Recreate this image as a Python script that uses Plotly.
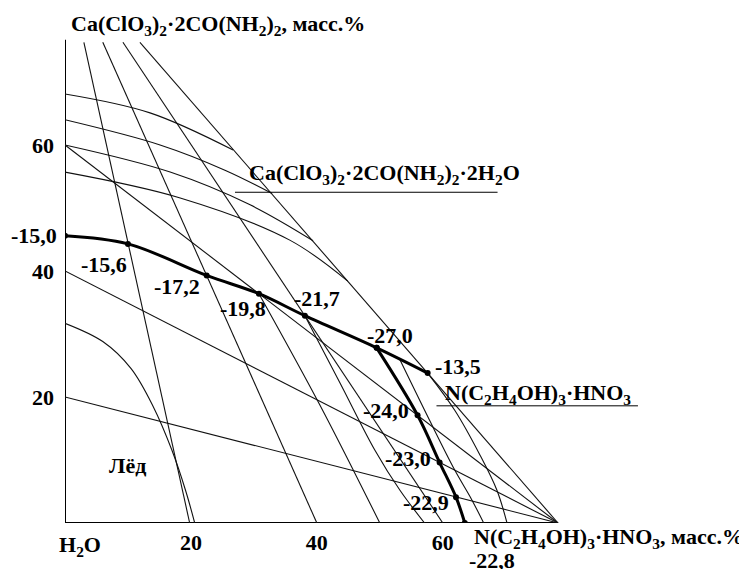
import plotly.graph_objects as go

# ---------------- data (mass %) ----------------
# axis extents
axis_x_end = 78.3          # N(C2H4OH)3·HNO3 vertex on the x axis
axis_y_top = 76.7          # top of the Ca(ClO3)2·2CO(NH2)2 axis

# sections from the Ca-salt vertex (start at top, end on x axis)
sec_top_y = 76.3
sec_top_x_start = [3.0, 6.0, 9.2, 11.9]
sec_top_x_end = [19.8, 40.0, 60.0, 78.3]

# sections from the N-salt vertex (start on y axis)
sec_n_y_start = [60.0, 40.0, 20.0]

# isotherms in the Ca(ClO3)2·2CO(NH2)2·2H2O field
iso_g1_x = [0, 13.5, 26.7]
iso_g1_y = [68.1, 65.1, 59.2]
iso_g2_x = [0, 15.1, 25.4, 32.9]
iso_g2_y = [64.0, 60.0, 56.0, 52.3]
iso_g3_x = [0, 16.7, 29.4, 39.4]
iso_g3_y = [60.0, 55.7, 50.5, 44.8]
iso_g4_x = [0, 18.3, 35.7, 44.9]
iso_g4_y = [55.7, 51.6, 44.9, 38.4]

# isotherms in the ice field
iso_ice_x = [0, 6.0, 10.5, 14.0, 17.0, 19.2, 20.6]
iso_ice_y = [31.7, 28.8, 24.5, 18.5, 11.5, 5.0, 0]
iso_i1_x = [30.8, 40.5, 50.0]
iso_i1_y = [36.4, 18.7, 0]
iso_i2_x = [38.1, 43.7, 49.2, 53.2, 57.1]
iso_i2_y = [32.9, 22.2, 11.6, 5.2, 0]

# isotherms in the N(C2H4OH)3·HNO3 field
iso_c1_x = [53.2, 57.9, 61.9, 64.6, 66.5]
iso_c1_y = [25.9, 16.3, 8.4, 3.7, 0]
iso_c2_x = [57.6, 61.9, 65.9, 68.6, 70.2]
iso_c2_y = [23.8, 17.9, 10.8, 5.2, 0]

# crystallization boundary lines (thick)
upper_x = [0, 10.0, 22.5, 30.8, 38.1, 49.5, 57.6]
upper_y = [45.6, 44.3, 39.3, 36.4, 32.9, 27.8, 23.8]
lower_x = [49.5, 56.0, 59.5, 62.1, 63.5]
lower_y = [27.8, 17.1, 9.6, 4.1, 0]

# temperature labels (°C) and their anchor points
temp_labels = ["-15,0", "-15,6", "-17,2", "-19,8", "-21,7", "-27,0", "-13,5",
               "-24,0", "-23,0", "-22,9", "-22,8"]
temp_lab_x = [0.05, 6.2, 17.8, 28.3, 40.0, 51.6, 62.4, 51.0, 54.4, 57.3, 67.8]
temp_lab_y = [45.7, 41.1, 37.5, 34.1, 35.7, 29.8, 24.8, 17.8, 10.2, 3.3, 0]

tick_vals = [20, 40, 60]
tick_text = ["20", "40", "60"]

FONT = "Liberation Serif"
FS = 22
THIN = dict(color="#111111", width=1.1)

fig = go.Figure()


def add_line(x, y, line, shape="linear"):
    fig.add_trace(go.Scatter(x=x, y=y, mode="lines", line=dict(**line, shape=shape),
                             hoverinfo="skip", showlegend=False))


# axes
add_line([0, 0], [0, axis_y_top], dict(color="black", width=2))
add_line([0, axis_x_end], [0, 0], dict(color="black", width=2))

# sections
for xs, xe in zip(sec_top_x_start, sec_top_x_end):
    add_line([xs, xe], [sec_top_y, 0], THIN)
for ys in sec_n_y_start:
    add_line([0, axis_x_end], [ys, 0], THIN)

# isotherms
for xx, yy in [(iso_g1_x, iso_g1_y), (iso_g2_x, iso_g2_y), (iso_g3_x, iso_g3_y),
               (iso_g4_x, iso_g4_y), (iso_ice_x, iso_ice_y), (iso_i1_x, iso_i1_y),
               (iso_i2_x, iso_i2_y), (iso_c1_x, iso_c1_y), (iso_c2_x, iso_c2_y)]:
    add_line(xx, yy, THIN, "spline")

# thick boundary lines
add_line(upper_x, upper_y, dict(color="black", width=3), "spline")
add_line(lower_x, lower_y, dict(color="black", width=3), "spline")
fig.add_trace(go.Scatter(x=upper_x + lower_x, y=upper_y + lower_y, mode="markers",
                         marker=dict(color="black", size=6), hoverinfo="skip",
                         showlegend=False))


def font():
    return dict(family=FONT, size=FS, color="black")


ann = []
for i, (t, x, y) in enumerate(zip(temp_labels, temp_lab_x, temp_lab_y)):
    a = dict(x=x, y=y, xref="x", yref="y", text="<b>%s</b>" % t, showarrow=False,
             xanchor="center", yanchor="middle", font=font())
    if i == 0:
        a.update(xanchor="right", xshift=-6)
    if t == "-22,8":
        a.update(yshift=-37)
    ann.append(a)

other_labels = [
    ("<b>Лёд</b>", 10.0, 9.2, 0),
    ("<b>H<sub>2</sub>O</b>", 2.4, 0, -23),
    ("<b>N(C<sub>2</sub>H<sub>4</sub>OH)<sub>3</sub>·HNO<sub>3</sub>, масс.%</b>", 86.4, 0, -15),
    ("<b>Ca(ClO<sub>3</sub>)<sub>2</sub>·2CO(NH<sub>2</sub>)<sub>2</sub>, масс.%</b>", 24.3, 79.0, 0),
    ("<b>Ca(ClO<sub>3</sub>)<sub>2</sub>·2CO(NH<sub>2</sub>)<sub>2</sub>·2H<sub>2</sub>O</b>", 50.8, 55.4, 0),
    ("<b>N(C<sub>2</sub>H<sub>4</sub>OH)<sub>3</sub>·HNO<sub>3</sub></b>", 75.2, 20.5, 0),
]
for t, x, y, ys in other_labels:
    ann.append(dict(x=x, y=y, xref="x", yref="y", text=t, showarrow=False,
                    xanchor="center", yanchor="middle", yshift=ys, font=font()))

shapes = [
    dict(type="line", xref="x", yref="y", x0=27.0, x1=68.7, y0=52.5, y1=52.5,
         line=dict(color="black", width=1)),
    dict(type="line", xref="x", yref="y", x0=59.0, x1=91.0, y0=18.6, y1=18.6,
         line=dict(color="black", width=1)),
]

# the page body has an 8px margin, so the figure is sized to fill the rest
fig.update_layout(
    width=739, height=561,
    margin=dict(l=57, r=2, t=11, b=46),
    paper_bgcolor="white", plot_bgcolor="white",
    annotations=ann, shapes=shapes,
    xaxis=dict(range=[0, 108], showgrid=False, zeroline=False, showline=False,
               automargin=False,
               tickvals=tick_vals, ticktext=["<b>%s</b>" % t for t in tick_text],
               ticks="", ticklabelstandoff=4, tickfont=font()),
    yaxis=dict(range=[0, 80], showgrid=False, zeroline=False, showline=False,
               automargin=False,
               tickvals=tick_vals, ticktext=["<b>%s</b>" % t for t in tick_text],
               ticks="", ticklabelstandoff=10, tickfont=font()),
)

fig.write_html("out.html")
